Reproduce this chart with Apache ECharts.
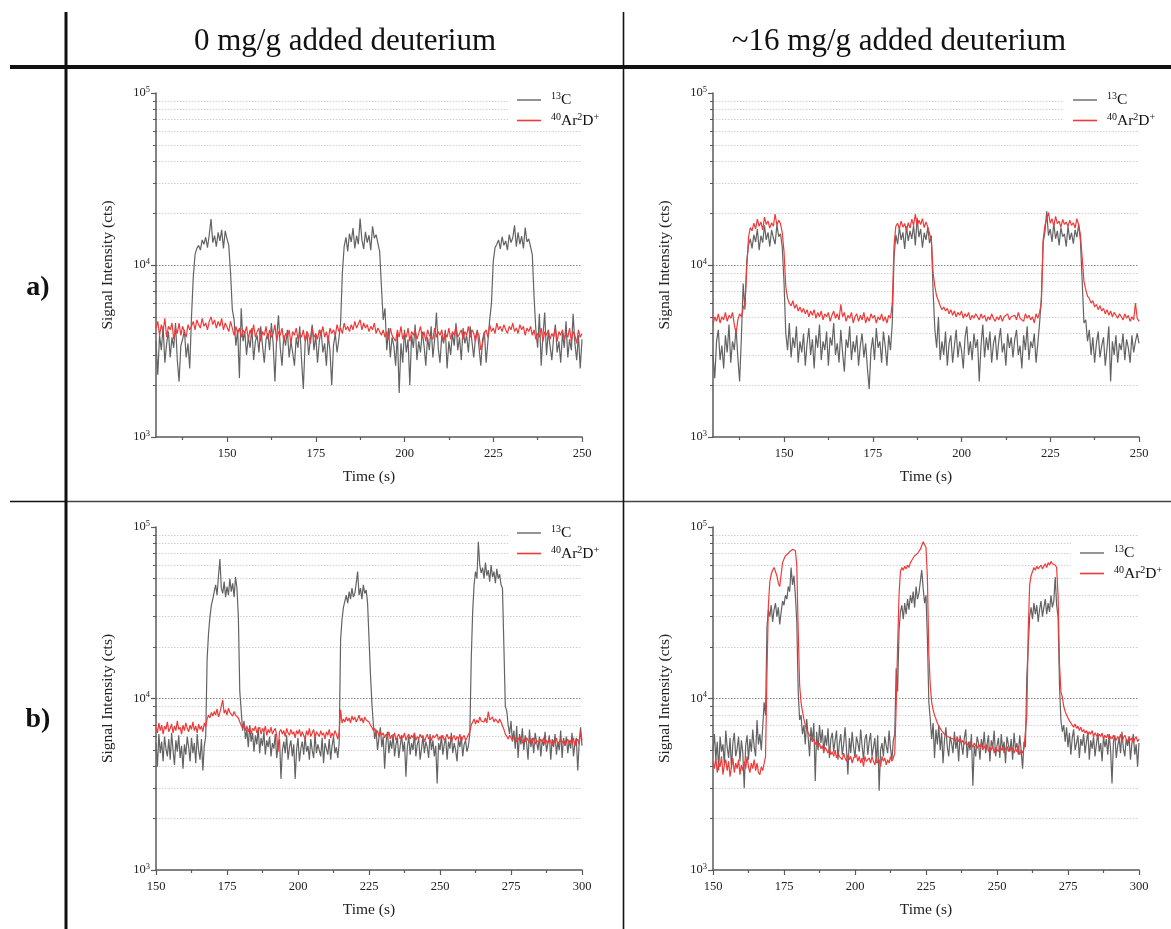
<!DOCTYPE html>
<html>
<head>
<meta charset="utf-8">
<script src="https://cdn.jsdelivr.net/npm/echarts@6/dist/echarts.min.js"></script>
<style>html,body{margin:0;padding:0;background:#fff;}#chart{width:1171px;height:929px;}</style>
</head>
<body>
<div id="chart"></div>
<script>
const FONT = '"Liberation Serif", "Times New Roman", serif';

// ---------- texts / categories ----------
const columnHeaders = ['0 mg/g added deuterium', '~16 mg/g added deuterium'];
const rowLabels = ['a)', 'b)'];
const seriesNames = ['13C', '40Ar2D+'];
const xAxisTitle = 'Time (s)';
const yAxisTitle = 'Signal Intensity (cts)';

// ---------- axes ----------
const timeStepS = 0.5;
const timeStartA = 130, timeStartB = 150;
const xRangeA = [130, 250], xRangeB = [150, 300];
const xTickLabelsA = [150, 175, 200, 225, 250];
const xMinorTicksA = [137.5, 162.5, 187.5, 212.5, 237.5];
const xTickLabelsB = [150, 175, 200, 225, 250, 275, 300];
const xMinorTicksB = [162.5, 187.5, 212.5, 237.5, 262.5, 287.5];
const yRange = [1000, 100000];
const yMinorTicks = [2000, 3000, 4000, 5000, 6000, 7000, 8000, 9000, 10000,
                     20000, 30000, 40000, 50000, 60000, 70000, 80000, 90000];

// ---------- data (kcts, one value every 0.5 s) ----------
// a) 0 mg/g, 13C  (130 s .. 250 s)
const c13_a0 = [
3.6,2.3,3.9,3.2,4.4,2.7,3.5,4.1,2.9,3.8,
3.3,4.6,2.8,2.1,3.4,3.7,4.2,2.9,3.5,2.5,
5.0,8.5,11.5,12.5,13.0,12.2,14.0,13.2,14.5,12.6,
15.0,18.5,13.5,14.8,12.8,15.5,13.8,16.0,12.5,15.8,
14.2,13.0,9.0,5.5,4.8,3.4,4.2,2.2,5.6,3.6,
4.1,3.0,3.8,3.3,4.3,2.8,3.6,3.9,3.1,4.4,
3.4,2.7,3.7,4.0,3.2,4.6,3.5,2.1,3.8,5.1,
3.3,2.6,3.9,3.4,4.2,2.9,3.6,3.1,2.6,3.8,
3.3,4.4,2.8,1.9,3.5,4.1,3.0,3.7,4.5,3.2,
3.9,2.7,3.6,4.2,3.1,3.5,2.6,3.9,3.2,2.0,
3.4,4.0,3.1,3.7,4.6,9.0,12.8,14.5,12.0,15.2,
13.6,16.4,12.5,14.8,13.2,18.6,14.0,12.4,15.6,13.5,
14.9,12.2,16.8,14.3,15.0,13.4,12.0,7.5,4.8,5.6,
3.2,4.3,2.9,3.8,3.4,2.6,4.0,1.8,3.5,2.7,
4.2,3.1,3.7,2.0,3.9,3.3,4.5,2.8,3.6,3.1,
4.1,3.4,2.6,3.8,3.2,4.4,2.9,3.7,5.3,3.3,
2.7,3.9,3.5,4.2,2.5,3.6,3.0,4.0,3.4,4.6,
3.2,3.8,2.8,4.3,3.5,3.9,3.1,4.4,3.6,2.9,
3.8,4.2,3.3,2.6,3.7,4.1,2.7,3.6,4.8,6.0,
10.5,12.6,13.2,14.0,12.4,14.6,13.0,13.8,12.2,15.0,
13.5,14.4,17.0,12.8,15.5,13.2,14.7,12.5,16.5,13.6,
14.2,12.8,11.5,6.5,4.2,3.3,5.2,2.6,3.9,5.3,
3.0,4.1,3.4,2.8,3.8,4.5,3.1,3.6,2.7,4.0,
3.3,4.7,2.9,3.7,3.2,5.2,3.5,2.8,3.9,2.5,
3.7];
// a) 0 mg/g, 40Ar2D+
const ar2d_a0 = [
4.3,4.7,3.9,4.5,4.1,4.9,3.8,4.4,4.2,4.6,
3.7,4.3,4.0,4.6,3.9,4.4,4.1,3.8,4.5,4.2,
4.4,4.7,4.2,4.8,4.5,4.3,4.9,4.4,4.6,4.2,
4.7,5.0,4.5,4.8,4.3,4.7,4.4,4.9,4.2,4.6,
4.5,4.1,4.7,4.3,3.9,4.4,4.0,4.3,3.8,4.2,
4.0,4.4,3.7,4.2,3.9,4.5,3.8,4.1,4.3,3.6,
4.1,3.9,4.4,3.7,4.2,3.8,4.0,4.5,3.6,4.1,
3.9,4.3,3.6,4.0,3.8,4.2,3.5,4.1,3.9,4.3,
3.7,4.0,3.8,4.2,3.6,4.1,3.9,3.5,4.3,3.8,
4.0,3.7,4.2,3.9,4.4,3.8,4.1,3.6,4.3,4.0,
4.2,3.9,4.5,4.1,4.3,4.0,4.6,4.2,4.4,4.1,
4.5,4.2,4.7,4.3,4.4,4.8,4.2,4.6,4.3,4.5,
4.1,4.4,4.2,4.6,4.0,4.3,4.1,3.9,4.2,3.8,
4.1,3.7,4.3,3.9,4.0,3.6,4.2,3.8,4.4,3.7,
4.0,3.8,4.3,3.6,4.1,3.9,4.2,3.7,4.0,4.4,
3.8,4.1,3.6,4.2,3.9,4.0,3.7,4.3,3.8,4.1,
3.9,4.2,3.6,4.0,3.8,4.3,3.7,4.1,3.9,4.4,
3.8,4.0,4.2,3.7,4.1,3.9,4.4,3.8,4.2,4.0,
3.6,4.1,3.9,3.2,3.5,4.0,4.2,3.8,4.5,4.1,
4.3,4.0,4.6,4.2,4.4,4.1,4.5,4.2,4.0,4.4,
4.2,4.6,4.1,4.3,4.0,4.5,4.2,4.4,3.9,4.3,
4.1,4.4,3.9,4.2,3.7,4.0,3.8,4.3,3.6,4.1,
3.9,4.2,3.7,4.0,3.8,4.3,3.6,4.1,3.9,4.2,
3.7,4.0,3.8,4.3,3.6,4.1,3.9,3.5,4.2,3.8,
4.0];
// a) ~16 mg/g, 13C
const c13_a16 = [
3.0,2.2,3.6,4.2,2.8,3.4,2.5,3.9,3.1,4.5,
2.7,3.6,3.2,4.3,2.9,2.1,3.8,7.8,5.5,10.5,
13.0,14.2,12.5,15.0,13.6,16.2,12.2,14.8,13.5,17.0,
14.0,15.5,12.8,16.0,14.4,13.2,17.2,14.6,15.2,12.8,
8.0,4.0,3.2,4.6,2.9,3.8,3.3,4.4,2.7,3.6,
3.1,4.0,2.6,3.5,4.3,3.0,3.7,2.5,3.9,3.3,
4.5,2.8,3.6,3.2,4.1,2.6,3.8,3.4,4.6,3.0,
3.5,2.7,4.2,3.1,2.4,3.7,3.3,4.4,2.8,3.6,
3.1,3.9,2.6,3.4,4.0,2.9,3.5,2.5,1.9,3.2,
3.8,2.8,4.3,3.3,3.6,2.7,4.1,3.4,2.6,3.9,
3.2,4.6,11.0,15.0,13.2,16.5,14.0,15.5,12.4,16.8,
13.8,15.8,14.2,17.0,13.0,18.8,14.5,16.2,12.6,15.4,
14.0,16.6,13.4,14.8,7.0,4.2,3.3,5.0,2.8,3.6,
3.0,4.1,2.6,3.5,3.9,2.7,3.4,4.2,2.9,3.6,
3.2,2.5,3.8,4.4,3.0,3.6,2.8,4.0,3.3,3.7,
2.1,3.4,4.5,2.9,3.8,3.2,4.1,2.7,3.5,3.9,
2.8,3.6,4.3,3.1,3.5,2.6,4.0,3.3,3.8,2.9,
3.7,4.2,3.0,3.4,2.5,3.9,3.2,4.4,2.8,3.6,
3.3,4.0,2.7,3.5,4.6,6.5,13.5,15.5,20.5,14.8,
16.2,13.6,17.5,14.2,15.8,13.0,16.5,14.6,15.2,12.8,
16.8,14.0,15.4,13.3,16.0,14.5,17.2,13.8,8.0,4.6,
4.8,3.6,4.2,3.0,3.8,2.7,3.5,4.1,2.9,3.4,
3.8,2.6,3.3,4.4,2.1,3.6,3.0,3.9,2.7,3.5,
3.2,4.0,2.8,3.7,3.3,2.7,3.9,3.1,3.6,4.0,
3.5];
// a) ~16 mg/g, 40Ar2D+
const ar2d_a16 = [
4.5,5.0,4.7,5.2,4.6,5.0,4.8,5.3,4.7,5.1,
4.9,5.3,4.5,4.0,4.8,5.2,5.0,5.6,6.0,9.5,
14.5,16.5,15.8,17.5,16.2,18.5,16.8,17.8,16.0,19.0,
17.2,18.0,16.4,17.6,16.8,19.8,17.0,18.2,17.4,15.5,
12.0,7.5,6.4,6.0,5.8,6.2,5.6,5.9,5.4,5.7,
5.3,5.6,5.2,5.5,5.0,5.4,5.1,5.5,4.9,5.3,
5.0,5.4,4.8,5.2,5.0,5.3,4.7,5.1,5.4,4.9,
5.2,4.8,5.9,5.0,5.3,4.7,5.1,4.9,5.3,4.6,
5.0,5.2,4.7,5.1,4.8,5.3,4.6,5.0,4.7,5.2,
4.9,5.1,4.6,5.0,4.8,5.2,4.7,5.0,4.6,5.1,
4.9,6.0,13.0,16.8,17.5,16.2,18.0,16.6,17.4,15.8,
17.6,16.4,18.5,17.0,19.8,16.8,18.2,17.2,18.6,16.5,
17.8,16.6,17.0,14.0,9.0,7.5,6.6,6.2,5.8,5.5,
5.7,5.4,5.6,5.2,5.5,5.1,5.4,5.0,5.3,5.1,
5.4,4.9,5.2,5.0,5.3,4.8,5.1,4.9,5.2,5.0,
4.8,5.2,4.9,5.1,4.7,5.0,4.8,5.2,4.9,4.7,
5.0,4.8,5.1,4.7,5.0,4.9,5.2,4.8,5.0,4.9,
5.1,4.8,5.3,4.9,5.0,4.7,5.2,4.9,5.1,4.8,
5.0,4.6,5.2,4.9,5.3,6.0,14.0,17.0,18.5,20.2,
17.5,18.6,16.8,19.2,17.4,18.0,16.6,18.4,17.2,17.8,
16.8,18.2,17.0,17.6,16.4,18.6,17.2,15.0,11.0,8.0,
7.2,6.6,6.4,6.0,6.2,5.7,5.9,5.5,5.8,5.4,
5.6,5.2,5.5,5.1,5.4,5.0,5.3,5.1,4.9,5.2,
5.0,4.8,5.2,4.9,5.1,4.7,5.0,4.8,6.0,4.9,
4.7];
// b) 0 mg/g, 13C  (150 s .. 300 s)
const c13_b0 = [
5.5,4.0,6.2,4.8,5.6,4.3,6.0,5.1,4.6,5.8,
4.4,6.3,5.0,4.1,5.7,4.9,6.1,4.5,5.3,3.9,
5.4,4.7,6.0,5.2,4.3,5.9,4.8,5.5,4.2,6.2,
5.0,4.4,5.8,3.8,5.3,6.0,17.0,24.0,30.0,35.0,
38.0,42.0,46.0,40.0,52.0,65.0,44.0,41.0,48.0,39.0,
45.0,40.0,50.0,42.0,47.0,39.0,51.0,44.0,30.0,11.0,
8.5,6.5,7.4,5.8,6.6,5.2,7.0,5.6,6.3,4.9,
6.1,5.4,6.8,4.8,5.9,5.3,6.4,4.7,5.7,5.2,
6.0,4.6,5.5,5.1,6.2,4.5,5.3,5.8,3.4,5.0,
5.6,4.8,6.1,4.4,5.2,5.7,4.6,5.4,3.4,5.0,
5.9,4.3,5.1,5.6,4.7,6.0,4.9,5.3,4.4,5.8,
5.0,4.5,6.2,4.8,5.4,5.0,4.6,5.9,4.2,5.5,
5.1,4.7,5.8,4.4,5.3,6.0,4.8,5.2,4.5,5.5,
22.0,29.0,34.0,37.0,40.0,36.0,42.0,38.0,44.0,39.0,
41.0,47.0,55.0,40.0,44.0,38.0,46.0,41.0,43.0,36.0,
36.0,14.0,9.5,7.2,5.8,6.6,5.0,5.9,6.8,5.2,
6.0,3.9,5.5,6.4,4.8,5.7,5.1,6.2,4.6,5.4,
5.9,4.5,5.3,6.1,4.9,5.6,3.5,5.2,6.0,4.7,
5.5,5.0,6.3,4.6,5.4,5.8,4.4,5.1,6.0,4.8,
5.6,5.2,4.5,6.2,5.0,5.7,4.6,5.3,3.2,5.5,
5.0,6.1,4.7,5.4,5.9,4.4,5.6,5.1,6.3,4.8,
5.5,5.0,4.3,5.8,5.2,6.0,4.6,5.4,5.7,4.9,
5.3,6.2,17.0,32.0,46.0,55.0,50.0,82.0,60.0,54.0,
58.0,50.0,62.0,52.0,56.0,48.0,60.0,51.0,55.0,47.0,
57.0,50.0,53.0,46.0,44.0,20.0,9.0,8.5,7.0,6.2,
7.4,5.6,6.5,5.1,6.9,4.5,6.2,5.4,6.7,5.0,
6.1,5.5,4.4,6.6,5.2,5.9,4.8,6.3,5.6,5.0,
6.0,4.6,5.7,5.3,6.4,4.9,5.5,6.1,4.4,5.8,
5.2,6.2,4.7,5.6,5.0,6.5,4.5,5.9,5.3,6.0,
4.8,5.7,5.1,6.3,4.6,5.4,5.9,3.8,5.5,6.8,
5.3];
// b) 0 mg/g, 40Ar2D+
const ar2d_b0 = [
6.8,6.3,7.2,6.5,7.0,6.2,6.9,6.6,7.3,6.4,
6.7,7.1,6.3,6.9,6.5,7.4,6.6,6.8,6.2,7.0,
6.5,7.2,6.7,6.4,7.0,6.6,7.3,6.5,6.9,6.3,
7.1,6.6,6.9,6.4,7.2,6.8,7.6,8.0,7.7,8.3,
7.9,8.4,8.0,8.7,7.8,8.3,8.1,9.8,8.2,8.6,
8.0,8.8,8.3,8.5,7.9,8.4,8.0,8.2,7.7,7.3,
7.0,6.7,7.1,6.5,6.9,6.4,6.8,6.2,6.7,6.5,
6.9,6.3,6.6,6.8,6.2,6.7,6.4,6.9,6.1,6.6,
6.3,6.8,6.2,6.5,6.7,6.1,4.9,6.4,6.6,6.2,
6.5,6.0,6.7,6.3,6.1,6.6,6.2,6.4,5.9,6.5,
6.2,6.6,6.0,6.4,6.3,5.8,6.5,6.1,6.7,6.0,
6.3,6.6,5.9,6.4,6.2,6.0,6.5,6.1,6.3,5.8,
6.4,6.1,6.6,5.9,6.3,6.0,6.5,6.2,5.8,6.4,
8.6,7.2,7.6,7.3,7.8,7.4,7.7,7.2,7.9,7.5,
7.8,7.3,7.6,8.0,7.4,7.7,7.2,7.8,7.5,7.6,
7.3,7.0,6.8,6.5,6.7,6.2,6.5,6.0,6.4,6.1,
6.3,5.9,6.2,6.0,6.4,5.8,6.1,5.9,6.3,5.7,
6.0,6.2,5.8,6.1,5.9,6.3,5.7,6.0,6.2,5.8,
6.1,5.9,6.3,5.7,6.0,5.8,6.2,5.9,6.1,5.6,
5.9,6.2,5.8,6.0,5.7,6.1,5.9,5.8,6.2,5.7,
6.0,5.8,6.1,5.7,5.9,6.2,5.8,6.0,5.6,5.9,
6.1,5.7,6.0,5.8,6.2,5.6,5.9,6.1,5.7,5.9,
6.0,6.4,7.0,7.3,7.6,7.1,7.5,7.2,7.8,7.4,
7.6,7.3,7.7,7.2,8.4,7.5,7.4,7.8,7.3,7.6,
7.5,7.2,7.6,7.3,7.4,6.6,6.2,6.0,5.8,6.1,
5.9,5.7,6.0,5.8,5.6,5.9,5.7,6.0,5.5,5.8,
5.6,5.9,5.7,5.5,5.8,5.6,5.9,5.4,5.7,5.8,
5.5,5.8,5.6,5.9,5.4,5.7,5.5,5.8,5.6,5.3,
5.7,5.5,5.9,5.4,5.6,5.8,5.5,5.7,5.3,5.6,
5.8,5.4,5.7,5.5,5.9,5.3,5.6,5.8,5.4,6.4,
5.7];
// b) ~16 mg/g, 13C
const c13_b16 = [
5.0,6.2,4.4,5.6,3.8,6.0,4.9,5.4,4.1,6.5,
5.2,4.5,5.9,3.9,5.5,6.3,4.6,5.1,6.0,4.3,
5.7,4.8,3.0,5.3,6.1,4.4,5.8,4.9,6.6,5.2,
4.6,7.5,5.4,6.2,5.0,6.8,9.5,8.0,26.0,33.0,
30.0,35.0,28.0,33.0,36.0,30.0,34.0,27.0,32.0,37.0,
35.0,40.0,38.0,45.0,42.0,58.0,46.0,52.0,40.0,28.0,
11.0,7.5,8.0,6.2,7.0,5.4,7.6,6.0,4.6,6.8,
5.6,7.2,3.3,6.4,5.0,7.0,5.5,6.6,4.8,6.1,
5.3,6.7,4.5,5.8,6.3,4.9,5.7,6.5,4.4,5.5,
6.2,4.7,5.4,6.8,5.1,3.6,5.9,4.8,6.4,5.2,
4.5,6.0,5.5,4.9,6.6,5.3,4.4,5.8,6.2,4.7,
5.6,6.3,4.6,5.2,5.9,4.2,6.1,2.9,5.0,5.5,
4.6,6.0,5.3,4.8,6.5,5.1,4.4,5.7,6.2,15.0,
11.0,25.0,32.0,35.0,29.0,36.0,31.0,38.0,33.0,40.0,
36.0,42.0,34.0,45.0,38.0,41.0,48.0,56.0,44.0,36.0,
40.0,22.0,9.5,7.6,5.8,7.2,4.5,6.6,5.4,7.0,
5.0,6.3,4.2,5.7,6.8,5.2,4.6,6.0,5.5,4.8,
6.4,5.1,5.8,4.3,6.1,5.4,4.7,5.9,6.6,4.5,
5.6,5.0,6.2,3.1,5.3,4.6,6.0,5.5,4.4,5.8,
5.1,6.4,4.8,5.4,6.1,4.3,5.7,5.2,6.5,4.6,
5.3,5.9,4.5,6.2,5.0,5.6,4.2,6.0,5.4,4.9,
5.8,4.4,6.3,5.1,5.5,4.7,6.1,5.0,3.9,5.6,
5.2,13.5,20.0,30.0,34.0,29.0,36.0,31.0,35.0,28.0,
33.0,37.0,30.0,34.0,38.0,31.0,36.0,32.0,40.0,34.0,
37.0,51.0,35.0,30.0,12.0,7.5,6.4,7.0,5.6,6.8,
5.2,6.3,4.7,5.9,6.6,5.0,5.5,6.1,4.5,5.8,
5.3,6.2,4.8,5.6,6.4,4.4,5.7,5.1,6.0,4.6,
5.4,6.3,4.9,5.5,4.3,6.0,5.2,5.8,4.7,6.2,
5.0,3.2,5.6,6.1,4.5,5.3,5.9,4.8,6.4,5.1,
4.6,5.8,5.3,6.0,4.4,5.5,6.2,4.7,5.4,4.0,
5.5];
// b) ~16 mg/g, 40Ar2D+
const ar2d_b16 = [
4.3,3.9,4.5,3.7,4.2,4.0,4.6,3.6,4.1,4.4,
3.8,4.3,3.5,4.0,4.5,3.7,4.2,3.9,4.4,3.6,
4.1,3.8,4.3,3.9,4.6,4.0,3.7,4.2,3.9,4.4,
3.8,4.2,3.7,3.6,4.0,3.8,3.7,4.6,14.0,35.0,
48.0,53.0,56.0,58.0,57.0,52.0,47.0,45.0,53.0,62.0,
65.0,68.0,67.0,70.0,72.0,71.0,74.0,76.0,73.0,60.0,
25.0,12.0,9.5,8.4,7.6,7.0,6.6,6.3,6.1,5.9,
5.6,5.8,5.4,5.6,5.2,5.5,5.1,5.3,4.9,5.2,
5.0,4.8,5.1,4.7,4.9,4.6,5.0,4.5,4.8,4.6,
4.7,4.4,4.8,4.5,4.3,4.7,4.4,4.6,4.2,4.5,
4.4,4.7,4.3,4.6,4.2,4.5,4.0,4.6,4.3,4.4,
4.5,4.2,4.6,4.3,4.1,4.5,4.2,4.4,4.0,4.6,
4.3,4.5,4.1,4.4,4.2,4.6,4.3,4.5,4.8,9.0,
20.0,40.0,55.0,58.0,56.0,59.0,57.0,60.0,58.0,62.0,
64.0,66.0,68.0,67.0,70.0,72.0,74.0,78.0,82.0,80.0,
76.0,50.0,18.0,12.0,9.5,8.6,8.0,7.6,7.2,6.9,
6.7,6.5,6.4,6.2,6.3,6.0,6.1,5.9,6.0,5.8,
5.9,5.7,6.0,5.6,5.8,5.5,5.7,5.4,5.6,5.5,
5.3,5.6,5.4,5.2,5.5,5.3,5.1,5.4,5.2,5.5,
5.0,5.3,5.1,5.4,4.9,5.2,5.0,5.3,4.8,5.2,
5.1,4.9,5.3,5.0,5.2,4.8,5.1,5.3,4.9,5.2,
5.0,5.2,4.8,5.1,4.9,5.3,4.7,5.0,4.8,5.1,
5.0,8.0,25.0,46.0,52.0,55.0,58.0,56.0,59.0,57.0,
58.0,60.0,57.0,59.0,61.0,58.0,62.0,60.0,63.0,61.0,
62.0,60.0,58.0,40.0,16.0,11.0,10.2,9.0,8.4,8.0,
7.7,7.4,7.2,7.0,6.8,7.1,6.7,6.9,6.5,6.8,
6.4,6.6,6.3,6.5,6.1,6.4,6.2,6.5,6.0,6.3,
6.1,5.9,6.2,6.0,6.3,5.8,6.1,5.9,6.2,5.7,
6.0,5.8,6.1,5.9,5.7,6.0,5.8,6.2,5.6,5.9,
6.1,5.8,5.6,6.0,5.7,5.9,5.5,5.8,6.0,5.6,
5.8];

// ---------- layout ----------
const COLOR_C13 = '#636363';
const COLOR_AR = '#f03a3a';
const panels = [
  { grid: {left: 156, top: 93, width: 426, height: 344}, t0: timeStartA, range: xRangeA, labels: xTickLabelsA, minor: xMinorTicksA, c13: c13_a0,  ar: ar2d_a0,  legend: {left: 508, top: 90} },
  { grid: {left: 713, top: 93, width: 426, height: 344}, t0: timeStartA, range: xRangeA, labels: xTickLabelsA, minor: xMinorTicksA, c13: c13_a16, ar: ar2d_a16, legend: {left: 1064, top: 90} },
  { grid: {left: 156, top: 527, width: 426, height: 343}, t0: timeStartB, range: xRangeB, labels: xTickLabelsB, minor: xMinorTicksB, c13: c13_b0,  ar: ar2d_b0,  legend: {left: 508, top: 523} },
  { grid: {left: 713, top: 527, width: 426, height: 343}, t0: timeStartB, range: xRangeB, labels: xTickLabelsB, minor: xMinorTicksB, c13: c13_b16, ar: ar2d_b16, legend: {left: 1071, top: 543} }
];

const legendRichText = {'13C': '{sup|13}{txt|C}', '40Ar2D+': '{sup|40}{txt|Ar}{sup|2}{txt|D}{sup|+}'};
const yGridColors = yMinorTicks.map(v => v === 10000 ? '#8a8a8a' : '#d0d0d0');

const toSeries = (arr, t0) => arr.map((v, i) => [t0 + i * timeStepS, v * 1000]);

const grids = [], xAxes = [], yAxes = [], series = [], legends = [];
panels.forEach((p, i) => {
  grids.push(Object.assign({containLabel: false}, p.grid));
  xAxes.push({
    type: 'value', gridIndex: i, min: p.range[0], max: p.range[1], position: 'bottom',
    axisLine: {show: true, onZero: false, lineStyle: {color: '#5a5a5a', width: 1.5}},
    axisTick: {show: true, length: 5, customValues: p.labels, lineStyle: {color: '#5a5a5a', width: 1.2}},
    axisLabel: {customValues: p.labels, margin: 10, fontFamily: FONT, fontSize: 12.5, color: '#222'},
    splitLine: {show: false},
    name: xAxisTitle, nameLocation: 'middle', nameGap: 32,
    nameTextStyle: {fontFamily: FONT, fontSize: 15.5, color: '#222'}
  });
  xAxes.push({
    type: 'value', gridIndex: i, min: p.range[0], max: p.range[1], position: 'bottom',
    axisLine: {show: false, onZero: false},
    axisTick: {show: true, length: 3, customValues: p.minor, lineStyle: {color: '#5a5a5a', width: 1.2}},
    axisLabel: {show: false}, splitLine: {show: false}
  });
  yAxes.push({
    type: 'log', logBase: 10, gridIndex: i, min: yRange[0], max: yRange[1], position: 'left',
    axisLine: {show: true, lineStyle: {color: '#5a5a5a', width: 1.5}},
    axisTick: {show: true, length: 5, lineStyle: {color: '#5a5a5a', width: 1.2}},
    axisLabel: {
      margin: 6,
      formatter: v => '{b|10}{s|' + Math.round(Math.log10(v)) + '}',
      rich: {
        b: {fontFamily: FONT, fontSize: 12.5, color: '#222', lineHeight: 16},
        s: {fontFamily: FONT, fontSize: 8.5, color: '#222', verticalAlign: 'top', lineHeight: 10}
      }
    },
    splitLine: {show: false},
    name: yAxisTitle, nameLocation: 'middle', nameGap: 40,
    nameTextStyle: {fontFamily: FONT, fontSize: 15.5, color: '#222'}
  });
  yAxes.push({
    type: 'log', logBase: 10, gridIndex: i, min: yRange[0], max: yRange[1], position: 'left',
    axisLine: {show: false},
    axisTick: {show: true, length: 3, customValues: yMinorTicks, lineStyle: {color: '#5a5a5a', width: 1}},
    axisLabel: {show: false},
    splitLine: {show: true, lineStyle: {type: [1.5, 1.5], color: yGridColors, width: 1}}
  });
  series.push({
    name: seriesNames[0], type: 'line', xAxisIndex: 2 * i, yAxisIndex: 2 * i,
    data: toSeries(p.c13, p.t0), showSymbol: false, symbol: 'none', sampling: null,
    lineStyle: {color: COLOR_C13, width: 1.2}, itemStyle: {color: '#7a7a7a'}, z: 2
  });
  series.push({
    name: seriesNames[1], type: 'line', xAxisIndex: 2 * i, yAxisIndex: 2 * i,
    data: toSeries(p.ar, p.t0), showSymbol: false, symbol: 'none', sampling: null,
    lineStyle: {color: COLOR_AR, width: 1.2}, itemStyle: {color: COLOR_AR}, z: 3
  });
  legends.push({
    left: p.legend.left, top: p.legend.top, orient: 'vertical', align: 'left',
    backgroundColor: '#fff', padding: [1.5, 8, 1, 9], itemGap: 4,
    icon: 'rect', itemWidth: 24, itemHeight: 1.6, data: seriesNames, selectedMode: false,
    formatter: n => legendRichText[n],
    textStyle: {
      color: '#111', padding: [0, 0, 0, 5],
      rich: {
        txt: {fontFamily: FONT, fontSize: 15.5, color: '#111', lineHeight: 17},
        sup: {fontFamily: FONT, fontSize: 10, color: '#111', verticalAlign: 'top', lineHeight: 11}
      }
    }
  });
});

const lineEl = (x1, y1, x2, y2, w, c) => ({type: 'line', silent: true, shape: {x1, y1, x2, y2}, style: {stroke: c, lineWidth: w}});
const textEl = (x, y, text, size, weight) => ({type: 'text', silent: true, x, y,
  style: {text, fontFamily: FONT, fontSize: size, fontWeight: weight, fill: '#111', align: 'center', verticalAlign: 'middle'}});

const graphics = [
  lineEl(10, 67, 1171, 67, 4, '#111'),
  lineEl(10, 501.5, 66, 501.5, 1.6, '#111'),
  lineEl(66, 501.5, 1171, 501.5, 1.6, '#444'),
  lineEl(66, 12, 66, 929, 3, '#111'),
  lineEl(623.5, 12, 623.5, 929, 1.6, '#111'),
  textEl(345, 42, columnHeaders[0], 31, 'normal'),
  textEl(899, 42, columnHeaders[1], 31, 'normal'),
  textEl(38, 288, rowLabels[0], 28, 'bold'),
  textEl(38, 720, rowLabels[1], 28, 'bold')
];

const chart = echarts.init(document.getElementById('chart'), null, {renderer: 'canvas'});
chart.setOption({
  backgroundColor: '#fff',
  animation: false,
  grid: grids, xAxis: xAxes, yAxis: yAxes, series, legend: legends,
  graphic: {elements: graphics}
});
</script>
</body>
</html>
